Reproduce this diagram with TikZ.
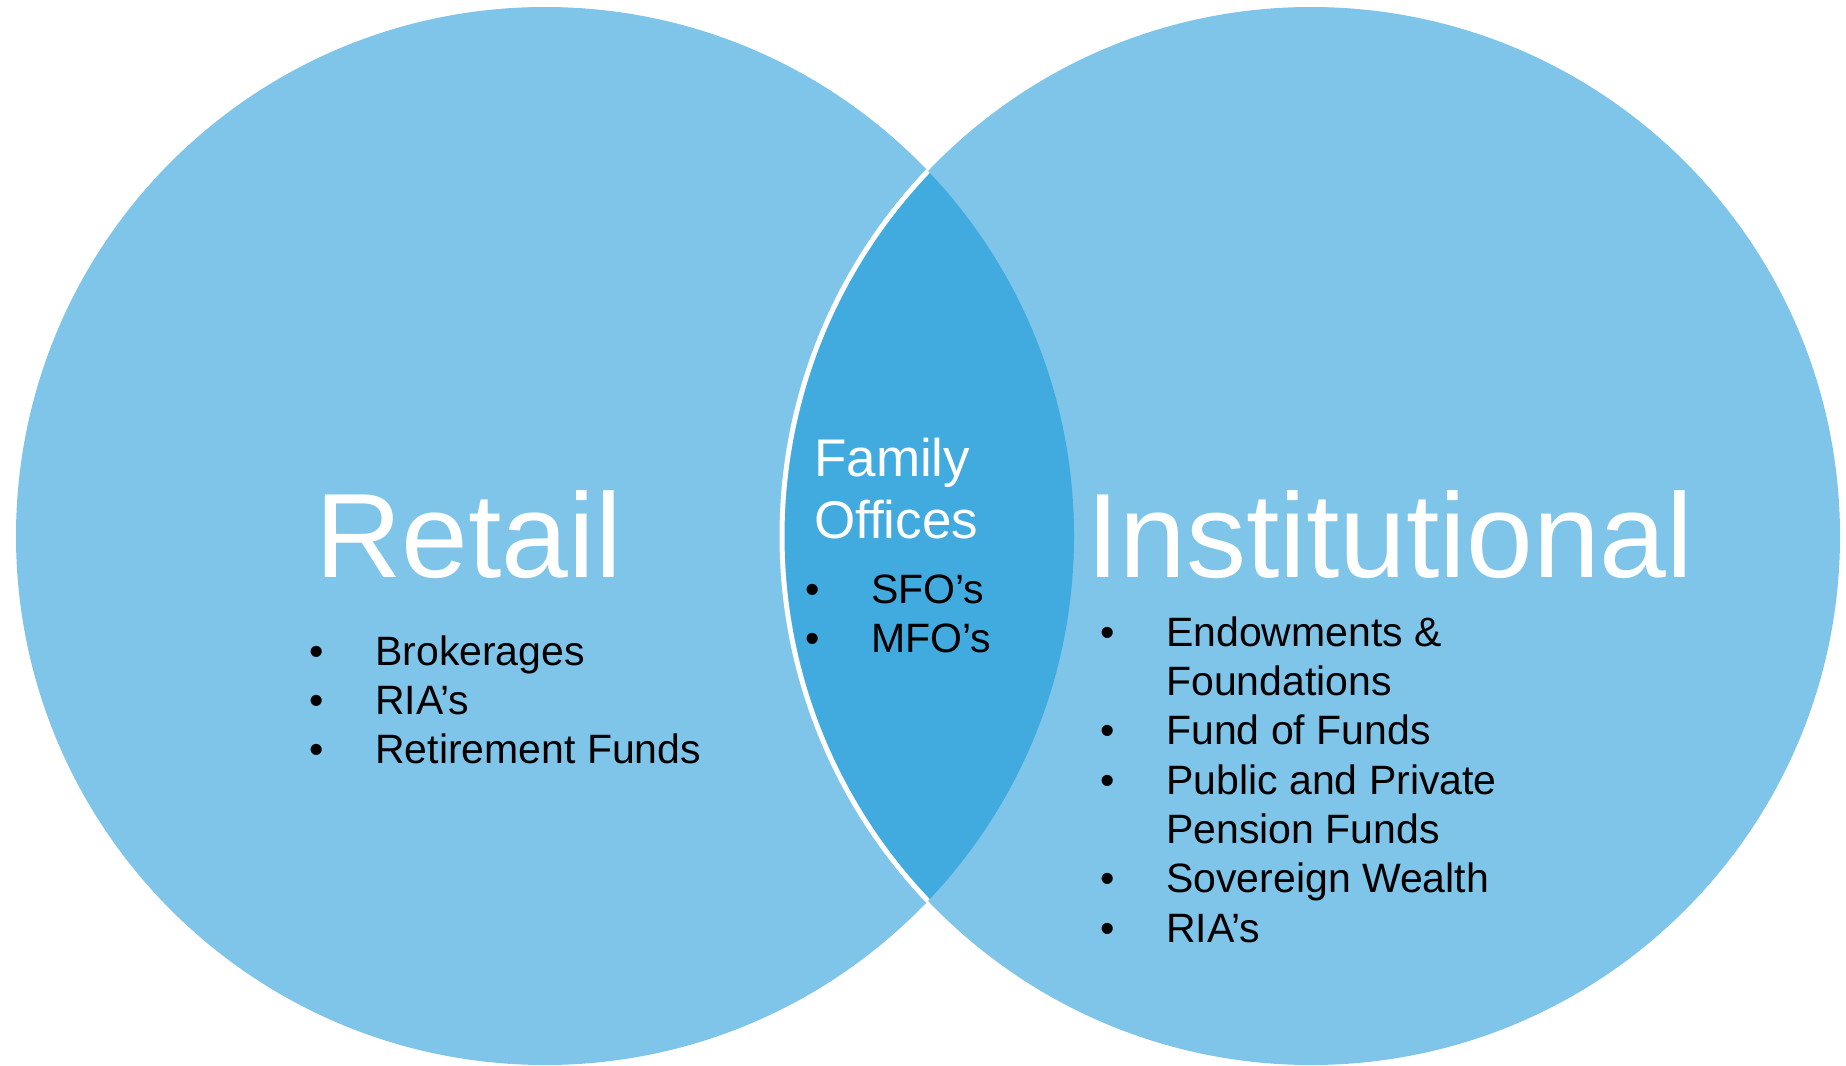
\documentclass[tikz,border=0pt]{standalone}
\usepackage{fontspec}
\setmainfont{Liberation Sans}
\definecolor{lightblue}{RGB}{127,197,233}
\definecolor{lensblue}{RGB}{65,170,223}
\begin{document}
\begin{tikzpicture}[x=1pt,y=-1pt,
  big/.style={text=white,inner sep=0pt,anchor=base west,font=\fontsize{120}{144}\selectfont},
  mid/.style={text=white,inner sep=0pt,anchor=base west,font=\fontsize{53}{60}\selectfont},
  item/.style={text=black,inner sep=0pt,anchor=base west,font=\fontsize{41}{49}\selectfont},
  dot/.style={text=black,inner sep=0pt,anchor=base,font=\fontsize{41}{49}\selectfont}]
\useasboundingbox (0,0) rectangle (1846,1065);
% circles
\fill[lightblue] (545,536) circle[radius=529pt];
\fill[lightblue] (1311,536) circle[radius=529pt];
\begin{scope}
  \clip (545,536) circle[radius=529pt];
  \fill[lensblue] (1311,536) circle[radius=529pt];
  \draw[white,line width=5pt] (1311,536) circle[radius=529pt];
\end{scope}
% Retail
\node[big] (retail) at (315,577) {Retail};
\node[dot] (rb1) at (317,665) {•};
\node[dot] (rb2) at (317,714) {•};
\node[dot] (rb3) at (317,763) {•};
\node[item] (r1) at (375,665) {Brokerages};
\node[item] (r2) at (375,714) {RIA’s};
\node[item] (r3) at (375,763) {Retirement Funds};
% Family offices
\node[mid] (fam) at (814,476) {Family};
\node[mid] (off) at (814,538) {Offices};
\node[dot] (fb1) at (813,603) {•};
\node[dot] (fb2) at (813,652) {•};
\node[item] (f1) at (871,603) {SFO’s};
\node[item] (f2) at (871,652) {MFO’s};
% Institutional
\node[big] (inst) at (1086,577) {Institutional};
\node[dot] (ib1) at (1108,646) {•};
\node[dot] (ib2) at (1108,744) {•};
\node[dot] (ib3) at (1108,794) {•};
\node[dot] (ib4) at (1108,892) {•};
\node[dot] (ib5) at (1108,942) {•};
\node[item] (i1) at (1166,646) {Endowments \&};
\node[item] (i1b) at (1166,695) {Foundations};
\node[item] (i2) at (1166,744) {Fund of Funds};
\node[item] (i3) at (1166,794) {Public and Private};
\node[item] (i3b) at (1166,843) {Pension Funds};
\node[item] (i4) at (1166,892) {Sovereign Wealth};
\node[item] (i5) at (1166,942) {RIA’s};
\end{tikzpicture}
\end{document}
